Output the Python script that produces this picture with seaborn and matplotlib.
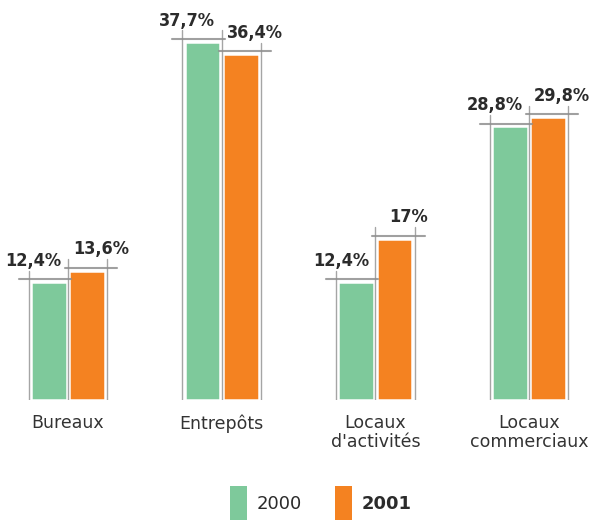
import matplotlib
matplotlib.use("Agg")
import matplotlib.pyplot as plt
import seaborn as sns
import pandas as pd
from matplotlib.patches import Patch

categories = ["Bureaux", "Entrepôts", "Locaux\nd'activités", "Locaux\ncommerciaux"]
values_2000 = [12.4, 37.7, 12.4, 28.8]
values_2001 = [13.6, 36.4, 17.0, 29.8]
labels_2000 = ["12,4%", "37,7%", "12,4%", "28,8%"]
labels_2001 = ["13,6%", "36,4%", "17%", "29,8%"]
series = ["2000", "2001"]

df = pd.DataFrame({
    "cat": categories * 2,
    "year": [series[0]] * 4 + [series[1]] * 4,
    "val": values_2000 + values_2001,
})

sns.set_style("white")
fig = plt.figure(figsize=(6, 5.2), dpi=100)
ax = fig.add_axes([0, 120 / 520, 1, 380 / 520])
palette = {"2000": "#7ec99b", "2001": "#f48221"}
sns.barplot(data=df, x="cat", y="val", hue="year", palette=palette, order=categories,
            hue_order=series, width=0.5, gap=0.07, edgecolor="white", linewidth=1.8,
            ax=ax, legend=False, saturation=1)
ax.set_ylim(0, 40)
ax.set_xlim(-68 / 153.67, (600 - 68) / 153.67)
ax.axis("off")

gray = "#8f8f8f"
pats = ax.patches
n = len(categories)
txt_kw = dict(fontsize=13, fontweight="bold", color="#2b2b2b",
              family="DejaVu Sans", fontstretch="condensed", va="bottom")
for i in range(n):
    pg, po = pats[i], pats[i + n]
    x0g, x1g, hg = pg.get_x(), pg.get_x() + pg.get_width(), pg.get_height()
    x0o, x1o, ho = po.get_x(), po.get_x() + po.get_width(), po.get_height()
    d = 0.015
    mid = (x1g + x0o) / 2
    ax.plot([x0g - d] * 2, [-0.7, hg + 1.2], color=gray, lw=1, alpha=0.8)
    ax.plot([mid] * 2, [-0.7, max(hg, ho) + 1.2], color=gray, lw=1, alpha=0.8)
    ax.plot([x1o + d] * 2, [-0.7, ho + 1.2], color=gray, lw=1, alpha=0.8)
    ax.plot([x0g - 0.08, mid + 0.02], [hg + 0.3, hg + 0.3], color=gray, lw=1.5, alpha=0.85)
    ax.plot([mid - 0.02, x1o + 0.08], [ho + 0.3, ho + 0.3], color=gray, lw=1.5, alpha=0.85)
    ax.plot([x0g - 0.08, x1o + 0.08], [-0.3, -0.3], color=gray, lw=1.5, alpha=0.85)
    ax.text((x0g + x1g) / 2 - 0.1, hg + 1.3, labels_2000[i], ha="center", **txt_kw)
    ax.text((x0o + x1o) / 2 + 0.09, ho + 1.3, labels_2001[i], ha="center", **txt_kw)
    ax.text(i, -1.5, categories[i], ha="center", va="top", fontsize=12.5,
            color="#333333", linespacing=1.05, family="DejaVu Sans")

handles = [Patch(facecolor=palette[s], edgecolor="none") for s in series]
leg = fig.legend(handles, series, loc="center", bbox_to_anchor=(0.535, 17 / 520),
                 ncol=2, frameon=False, handlelength=0.95, handleheight=2.5,
                 fontsize=13, columnspacing=1.8, handletextpad=0.55)
for t in leg.get_texts():
    t.set_color("#2b2b2b")
leg.get_texts()[1].set_fontweight("bold")

fig.savefig("out.png", dpi=100)
